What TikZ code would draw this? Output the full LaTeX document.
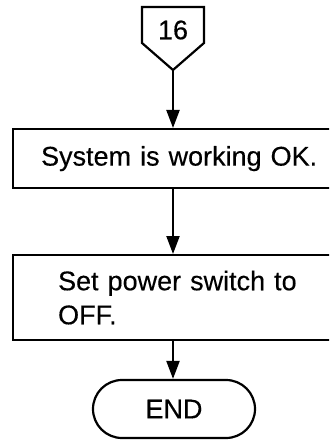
\documentclass[tikz,border=0pt]{standalone}
\usepackage{fontspec}
\setmainfont{Liberation Sans}[FakeBold=0.3]
\usetikzlibrary{arrows.meta,shapes.misc}
\begin{document}
\begin{tikzpicture}[x=1pt,y=-1pt,
  line width=2.2pt,
  every node/.style={font=\fontsize{27}{34}\selectfont},
  flowbox/.style={draw,rectangle,anchor=north west,minimum width=328pt,align=left},
  arr/.style={-{Triangle[length=18pt,width=13pt]}},
  term/.style={draw,rounded rectangle,minimum width=162pt,minimum height=58pt,inner sep=0pt}]
\useasboundingbox (0,0) rectangle (329,443);
\clip (0,0) rectangle (329,443);
% off-page connector
\draw[line join=miter] (142,7) -- (204,7) -- (204,43) -- (173,70) -- (142,43) -- cycle;
\node (c16) at (173,30) {16};
\coordinate (tip) at (173,70);
% boxes
\node[flowbox,minimum height=59pt,text width=300pt,inner xsep=28pt] (b1) at (12,128) {System is working OK.};
\node[flowbox,minimum height=85pt,text width=280pt,inner xsep=45pt] (b2) at (12,254) {Set power switch to\\OFF.};
\node[term] (end) at (174,409) {END};
% connectors
\draw[arr] (tip) -- (tip |- b1.north);
\draw[arr] (tip |- b1.south) -- (tip |- b2.north);
\draw[arr] (tip |- b2.south) -- (tip |- end.north);
\end{tikzpicture}
\end{document}
